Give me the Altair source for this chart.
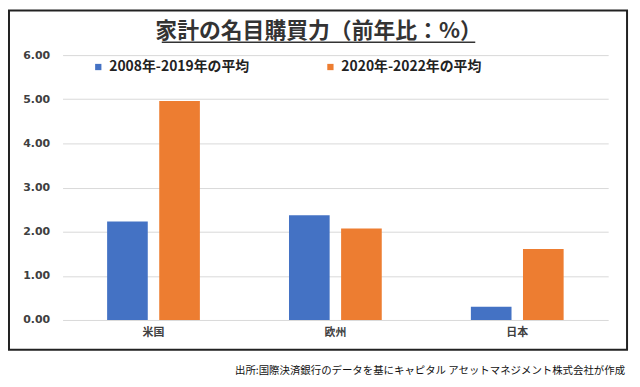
import altair as alt
import pandas as pd

regions = ["米国", "欧州", "日本"]
series = ["2008年-2019年の平均", "2020年-2022年の平均"]
avg_2008_2019 = [2.23, 2.37, 0.30]
avg_2020_2022 = [4.96, 2.07, 1.61]
colors = ["#4472C4", "#ED7D31"]
title_text = "家計の名目購買力（前年比：%）"
source_text = "出所:国際決済銀行のデータを基にキャピタル アセットマネジメント株式会社が作成"

rows = []
for i, r in enumerate(regions):
    rows.append({"region": r, "series": series[0], "value": avg_2008_2019[i]})
    rows.append({"region": r, "series": series[1], "value": avg_2020_2022[i]})
df = pd.DataFrame(rows)

JP = "Noto Sans CJK JP"

bars = alt.Chart(df).mark_bar().encode(
    x=alt.X("region:N", sort=regions, title=None,
            scale=alt.Scale(paddingInner=0.49, paddingOuter=0.245),
            axis=alt.Axis(labelAngle=0, domain=False, ticks=False, labelPadding=7,
                          labelFont=JP, labelFontWeight="bold", labelFontSize=11,
                          labelColor="#404040")),
    xOffset=alt.XOffset("series:N", sort=series,
                        scale=alt.Scale(paddingInner=0.22, paddingOuter=0)),
    y=alt.Y("value:Q", title=None,
            scale=alt.Scale(domain=[0, 6], nice=False),
            axis=alt.Axis(values=[0, 1, 2, 3, 4, 5, 6], format=".2f", domain=False,
                          ticks=False, labelPadding=13, gridColor="#d9d9d9",
                          labelFont="DejaVu Sans", labelFontWeight="bold",
                          labelFontSize=11, labelColor="#404040")),
    color=alt.Color("series:N", sort=series,
                    scale=alt.Scale(domain=series, range=colors),
                    legend=alt.Legend(title=None, orient="none", direction="horizontal",
                                      legendX=29, legendY=5, padding=0,
                                      symbolType="square", symbolSize=40,
                                      symbolStrokeWidth=0, labelOffset=4,
                                      columnPadding=74,
                                      labelFont=JP, labelFontWeight="bold",
                                      labelFontSize=14, labelColor="#222222",
                                      labelLimit=300)),
)

one = alt.Data(values=[{"a": 1}])

frame = alt.Chart(one).mark_rect(fillOpacity=0, stroke="#222222", strokeWidth=2).encode(
    x=alt.value(-54), x2=alt.value(569), y=alt.value(-45), y2=alt.value(297)
)

title = alt.Chart(one).mark_text(font=JP, fontWeight="bold", fontSize=22,
                                 color="#333333", align="center", baseline="middle").encode(
    x=alt.value(258), y=alt.value(-24), text=alt.value(title_text)
)

underline = alt.Chart(one).mark_rule(color="#333333", strokeWidth=1.5).encode(
    x=alt.value(100), x2=alt.value(416), y=alt.value(-13)
)

source = alt.Chart(one).mark_text(font=JP, fontSize=10.5, color="#111111",
                                  align="right", baseline="middle").encode(
    x=alt.value(567), y=alt.value(318), text=alt.value(source_text)
)

chart = alt.layer(frame, bars, title, underline, source).properties(
    width=550, height=267,
    autosize=alt.AutoSizeParams(type="none"),
    padding={"left": 55, "top": 46, "right": 24, "bottom": 58},
    background="white",
).configure_view(stroke=None)

chart.save("out.html", embed_options={"renderer": "svg", "actions": False})
